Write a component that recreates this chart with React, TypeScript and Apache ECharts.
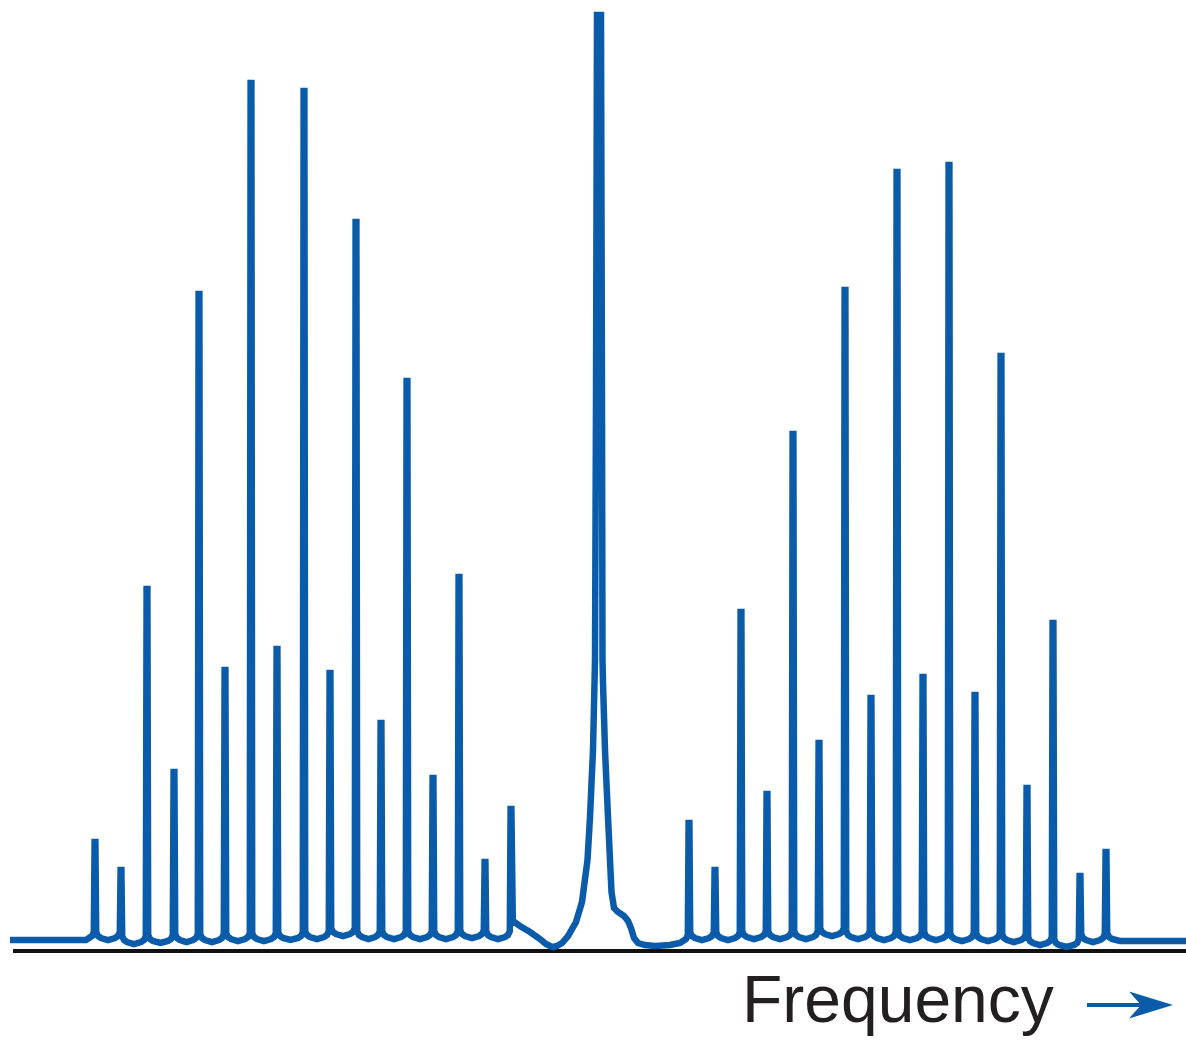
import React, { useEffect, useRef } from "react";
import * as echarts from "echarts";

// Rotational lines, left (P) branch: positions (frequency units) and intensities
const leftPositions = [95, 121, 147, 174, 199, 225, 251, 277, 304, 330, 356, 381, 407, 433, 459, 485, 511];
const leftIntensities = [98, 70, 351, 168, 646, 270, 857, 291, 849, 267, 718, 217, 559, 162, 363, 78, 131];
// Baseline level between neighbouring lines (left branch)
const leftValleys = [0, -4, -3, -2, -2, -1, -1, 0, 1, 4, 1, 1, 1, 1, 2, 1];

// Right (R) branch
const rightPositions = [689, 715, 741, 767, 793, 819, 845, 871, 897, 923, 949, 975, 1001, 1027, 1053, 1080, 1106];
const rightIntensities = [117, 70, 328, 146, 506, 197, 650, 242, 768, 263, 775, 245, 584, 152, 317, 64, 88];
const rightValleys = [0, 0, 1, 1, 1, 4, 1, 0, 0, 0, -1, -1, -2, -5, -7, -2];

// Central (Q) band profile: [frequency, intensity]
const centralBand: [number, number][] = [
  [512.8, 19], [520, 14], [530, 8], [540, 1], [546, -4], [550, -6], [553, -7], [557, -6], [562, -3], [568, 4],
  [576, 18], [582, 38], [587.5, 80], [590, 123], [593, 190], [594.5, 257], [595, 280],
  [596, 540], [597, 925], [601, 925], [602, 540], [602.5, 280], [603, 257], [605, 190],
  [608, 123], [610, 80], [611.5, 48], [614, 32], [618, 28], [624, 24], [628, 19], [631, 12], [634, 2], [638, -3],
  [645, -5], [655, -6], [670, -5], [680, -3],
];

const traceStart = 10;
const traceEnd = 1186;
const axisStart = 13;

function branch(
  pos: number[], hts: number[], valleys: number[],
  leftEdge: number, rightEdge: number | null
): [number, number][] {
  const pts: [number, number][] = [];
  const n = pos.length;
  for (let i = 0; i < n; i++) {
    const x = pos[i];
    const h = hts[i];
    const vl = i === 0 ? leftEdge : valleys[i - 1];
    const vr = i === n - 1 ? rightEdge : valleys[i];
    pts.push([x - 6, vl + 2], [x - 3, vl + 4], [x - 1.2, vl + 8]);
    pts.push([x - 0.4, h], [x + 0.4, h]);
    if (vr !== null) {
      pts.push([x + 1.2, vr + 8], [x + 3, vr + 4], [x + 6, vr + 2]);
      if (i < n - 1) pts.push([(x + pos[i + 1]) / 2, vr]);
    }
  }
  return pts;
}

export default function App() {
  const ref = useRef<HTMLDivElement>(null);
  useEffect(() => {
    document.body.style.margin = "0";
    document.body.style.overflow = "hidden";
    const chart = echarts.init(ref.current!, null, { renderer: "svg" });
    const blue = "#0a5cab";
    const trace: [number, number][] = [
      [traceStart, 0], [86, 0],
      ...branch(leftPositions, leftIntensities, leftValleys, 0, null),
      ...centralBand,
      ...branch(rightPositions, rightIntensities, rightValleys, -3, -1),
      [1120, -1], [traceEnd, -1],
    ];
    chart.setOption({
      animation: false,
      grid: { left: 0, right: 0, top: 0, bottom: 87 },
      xAxis: { type: "value", min: 0, max: 1186, show: false },
      yAxis: { type: "value", min: -14, max: 940, show: false },
      series: [
        {
          type: "line",
          name: "axis",
          data: [[axisStart, -11], [traceEnd, -11]],
          showSymbol: false,
          silent: true,
          lineStyle: { color: "#111111", width: 4 },
          z: 1,
        },
        {
          type: "line",
          name: "spectrum",
          data: trace,
          showSymbol: false,
          silent: true,
          clip: false,
          lineStyle: { color: blue, width: 6.5, join: "miter", cap: "butt" },
          z: 2,
        },
      ],
      graphic: [
        {
          type: "text",
          left: 742,
          top: 966,
          style: {
            text: "Frequency",
            font: '66px "Liberation Sans", Arial, sans-serif',
            fill: "#231f20",
          },
        },
        {
          type: "line",
          shape: { x1: 1087, y1: 1005, x2: 1150, y2: 1005 },
          style: { stroke: blue, lineWidth: 4 },
        },
        {
          type: "polygon",
          shape: { points: [[1173, 1005], [1129, 991.5], [1141, 1005], [1129, 1018.5]] },
          style: { fill: blue },
        },
      ],
    });
    return () => chart.dispose();
  }, []);
  return <div ref={ref} style={{ width: 1186, height: 1041 }} />;
}
